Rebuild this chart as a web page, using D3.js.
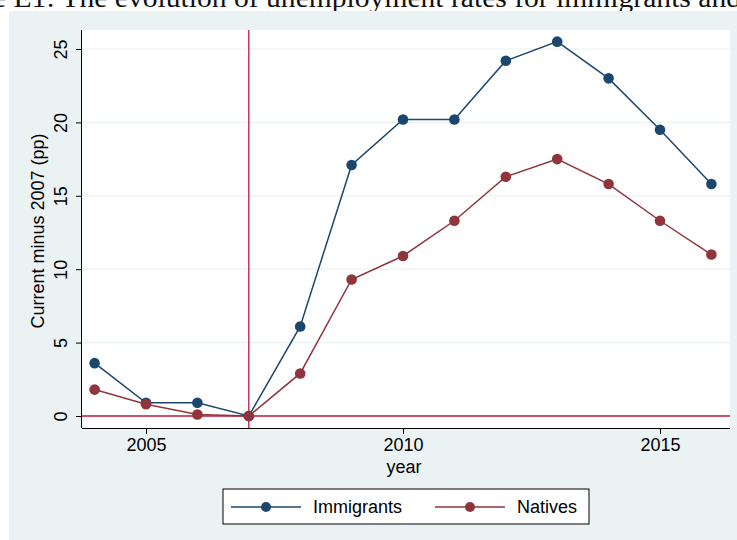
<!DOCTYPE html>
<html>
<head>
<meta charset="utf-8">
<script src="https://cdn.jsdelivr.net/npm/d3@7"></script>
<style>
  body { margin: 0; background: #fff; }
  svg { display: block; }
</style>
</head>
<body>
<svg id="chart"></svg>
<script>
const years = [2004, 2005, 2006, 2007, 2008, 2009, 2010, 2011, 2012, 2013, 2014, 2015, 2016];
const immigrants = [3.6, 0.9, 0.9, 0, 6.1, 17.1, 20.2, 20.2, 24.2, 25.5, 23.0, 19.5, 15.8];
const natives = [1.8, 0.8, 0.1, 0, 2.9, 9.3, 10.9, 13.3, 16.3, 17.5, 15.8, 13.3, 11.0];
const xTicks = [2005, 2010, 2015];
const yTicks = [0, 5, 10, 15, 20, 25];
const series = [
  {name: "Immigrants", values: immigrants, color: "#1a476f"},
  {name: "Natives", values: natives, color: "#90353b"}
];

const W = 737, H = 540;
const svg = d3.select("svg#chart").attr("width", W).attr("height", H);
const font = "'Liberation Sans', Arial, sans-serif";

// caption, cut off at the top like the source page
svg.append("text").attr("x", -7).attr("y", 7)
  .attr("font-family", "'Liberation Serif', 'DejaVu Serif', serif").attr("font-size", 27)
  .attr("textLength", 748).attr("lengthAdjust", "spacingAndGlyphs")
  .attr("fill", "#111")
  .text("e E1:  The evolution of unemployment rates for immigrants and");

// outer graph region
svg.append("rect").attr("x", 9).attr("y", 11).attr("width", W - 9).attr("height", H - 11).attr("fill", "#eaf2f3");

const plot = {left: 82, right: 730, top: 30, bottom: 428};
svg.append("rect").attr("x", plot.left).attr("y", plot.top)
  .attr("width", plot.right - plot.left).attr("height", plot.bottom - plot.top).attr("fill", "#fff");

const x = d3.scaleLinear().domain([2005, 2015]).range([146, 660]);
const y = d3.scaleLinear().domain([0, 25]).range([416, 49]);

// gridlines
svg.append("g").selectAll("line").data(yTicks.filter(d => d > 0)).join("line")
  .attr("x1", plot.left).attr("x2", plot.right)
  .attr("y1", d => y(d)).attr("y2", d => y(d))
  .attr("stroke", "#eaf2f3").attr("stroke-width", 1.2);

// axes
const xAxis = svg.append("g").attr("transform", `translate(0,${plot.bottom})`)
  .call(d3.axisBottom(x).tickValues(xTicks).tickFormat(d3.format("d")).tickSize(6).tickPadding(4).tickSizeOuter(0));
xAxis.select(".domain").attr("d", `M${plot.left},0.5H${plot.right}`);
const yAxis = svg.append("g").attr("transform", `translate(${plot.left},0)`)
  .call(d3.axisLeft(y).tickValues(yTicks).tickSize(6).tickPadding(5).tickSizeOuter(0));
yAxis.select(".domain").attr("d", `M-0.5,${plot.top}V${plot.bottom}`);
[xAxis, yAxis].forEach(a => {
  a.selectAll("path, line").attr("stroke", "#000").attr("stroke-width", 1);
  a.selectAll("text").attr("font-family", font).attr("font-size", 18).attr("fill", "#000");
});
yAxis.selectAll(".tick text")
  .attr("text-anchor", "middle")
  .attr("transform", "translate(-21,0) rotate(-90)")
  .attr("x", 0).attr("dy", "0.35em");

svg.append("text").attr("x", (plot.left + plot.right) / 2 - 2).attr("y", 473)
  .attr("text-anchor", "middle").attr("font-family", font).attr("font-size", 18).text("year");
svg.append("text").attr("transform", `translate(44,231) rotate(-90)`)
  .attr("text-anchor", "middle").attr("font-family", font).attr("font-size", 18).text("Current minus 2007 (pp)");

// reference lines at 2007 and zero
svg.append("line").attr("x1", x(2007)).attr("x2", x(2007)).attr("y1", plot.top).attr("y2", plot.bottom)
  .attr("stroke", "#c0143c").attr("stroke-width", 1.3);
svg.append("line").attr("x1", plot.left).attr("x2", plot.right).attr("y1", y(0)).attr("y2", y(0))
  .attr("stroke", "#c0143c").attr("stroke-width", 1.3);

// series
const line = d3.line().x((d, i) => x(years[i])).y(d => y(d));
series.forEach(s => {
  svg.append("path").datum(s.values).attr("d", line)
    .attr("fill", "none").attr("stroke", s.color).attr("stroke-width", 1.5);
  svg.append("g").selectAll("circle").data(s.values).join("circle")
    .attr("cx", (d, i) => x(years[i])).attr("cy", d => y(d)).attr("r", 5.3)
    .attr("fill", s.color);
});

// legend
svg.append("rect").attr("x", 223).attr("y", 489).attr("width", 366).attr("height", 35)
  .attr("fill", "#fff").attr("stroke", "#000").attr("stroke-width", 1);
const legendX = [231, 435];
series.forEach((s, i) => {
  const g = svg.append("g").attr("transform", `translate(${legendX[i]},507)`);
  g.append("line").attr("x1", 0).attr("x2", 70).attr("stroke", s.color).attr("stroke-width", 1.5);
  g.append("circle").attr("cx", 35).attr("r", 5).attr("fill", s.color);
  g.append("text").attr("x", 82).attr("dy", "0.35em").attr("font-family", font).attr("font-size", 18).text(s.name);
});
</script>
</body>
</html>
